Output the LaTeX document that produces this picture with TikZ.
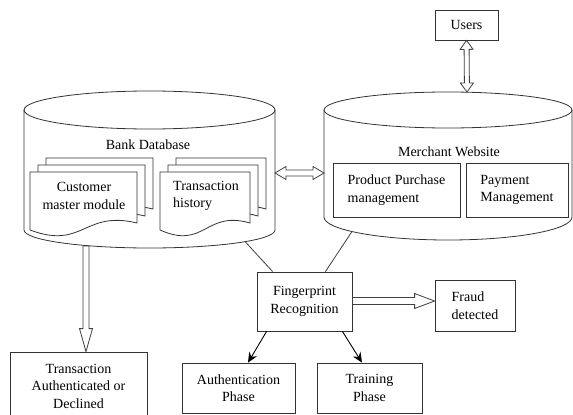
\documentclass[tikz,border=0pt]{standalone}
\usepackage{fontspec}
\setmainfont{Liberation Serif}
\usetikzlibrary{calc,arrows.meta}
\newcommand{\docpage}[3]{%
  \draw[docline] (#1,#2) -- (#1+#3,#2) -- (#1+#3,#2+51)
    .. controls (#1+0.5*#3,#2+38) and (#1+0.5*#3,#2+78) .. (#1,#2+58) -- cycle;}
\newcommand{\docstack}[3]{\docpage{#1+16}{#2-14}{#3}\docpage{#1+8}{#2-7}{#3}\docpage{#1}{#2}{#3}}
\newcommand{\blockarrow}[5]{%
  \coordinate (ba-q) at ($(#2)!#5!(#1)$);
  \draw[blk] ($(#1)!#3!90:(#2)$) -- ($(ba-q)!#3!-90:(#1)$) -- ($(ba-q)!#4!-90:(#1)$) -- (#2)
    -- ($(ba-q)!#4!90:(#1)$) -- ($(ba-q)!#3!90:(#1)$) -- ($(#1)!#3!-90:(#2)$) -- cycle;}
\newcommand{\dblockarrow}[5]{%
  \coordinate (ba-p) at ($(#1)!#5!(#2)$);
  \coordinate (ba-q) at ($(#2)!#5!(#1)$);
  \draw[blk] (#1) -- ($(ba-p)!#4!90:(#2)$) -- ($(ba-p)!#3!90:(#2)$) -- ($(ba-q)!#3!-90:(#1)$)
    -- ($(ba-q)!#4!-90:(#1)$) -- (#2) -- ($(ba-q)!#4!90:(#1)$) -- ($(ba-q)!#3!90:(#1)$)
    -- ($(ba-p)!#3!-90:(#2)$) -- ($(ba-p)!#4!-90:(#2)$) -- cycle;}
\begin{document}
\begin{tikzpicture}[x=1pt,y=-1pt,
  ln/.style={draw=black!80, line width=0.8pt},
  docline/.style={ln, fill=white},
  blk/.style={draw=black!75, line width=0.8pt, fill=white},
  txt/.style={font=\fontsize{14}{17.5}\selectfont, inner sep=0pt, text=black, align=center},
  box/.style={ln, txt, inner sep=0pt},
  conn/.style={draw=black!75, line width=0.8pt},
  arr/.style={draw=black, line width=0.9pt, -{Stealth[length=10pt,width=9pt]}}]
\useasboundingbox (0,0) rectangle (573,415);
\clip (0,0) rectangle (573,415);
\fill[white] (0,0) rectangle (573,415);

% Bank database cylinder
\draw[ln] (24,110) -- (24,230) arc[start angle=180,end angle=0,x radius=125.5,y radius=18] -- (275,110);
\draw[ln] (149.5,110) ellipse[x radius=125.5, y radius=19];
\node[txt] (bdb) at (148,145) {Bank Database};
\docstack{30}{172}{107}
\docstack{160}{172}{90}
\node[txt] (cust) at (84,196) {Customer\\master module};
\node[txt, align=left, anchor=west] (thist) at (173,196) {Transaction\\history};

% Merchant website cylinder
\draw[ln] (324,110) -- (324,217) arc[start angle=180,end angle=0,x radius=124,y radius=23] -- (572,110);
\draw[ln] (448,110) ellipse[x radius=124, y radius=18];
\node[txt] (mw) at (449,152) {Merchant Website};
\node[box, minimum width=127pt, minimum height=54pt, align=left] (prod) at (396.5,190) {Product Purchase\\management};
\node[box, minimum width=102pt, minimum height=54pt, align=left] (pay) at (517,190) {Payment\\Management};

% Other boxes
\node[box, minimum width=63pt, minimum height=30pt] (users) at (466.5,25) {Users};
\node[box, minimum width=95pt, minimum height=59pt] (fr) at (304.5,301.5) {Fingerprint\\Recognition};
\node[box, minimum width=80pt, minimum height=51pt, align=left] (fraud) at (475,305.5) {Fraud\\detected};
\node[box, minimum width=113pt, minimum height=50pt] (auth) at (238.5,388) {Authentication\\Phase};
\node[box, minimum width=105pt, minimum height=50pt] (train) at (369.5,388) {Training\\Phase};
\node[box, minimum width=137pt, minimum height=68pt] (trans) at (78.5,386) {Transaction\\Authenticated or\\Declined};

% connection points on cylinders
\coordinate (bankE) at (275,173);
\coordinate (mercW) at (324,173);
\coordinate (mercTop) at (467,92);
\coordinate (bankBot) at (86,246);
\coordinate (bankFR) at (245,241.5);
\coordinate (mercFR) at (352,231.5);

% block arrows
\dblockarrow{bankE}{mercW}{3pt}{6.5pt}{11pt}
\dblockarrow{users.south}{mercTop}{2.5pt}{6.5pt}{9pt}
\blockarrow{bankBot}{bankBot |- trans.north}{3pt}{6.5pt}{23pt}
\blockarrow{fr.east |- 0,301}{fraud.west |- 0,301}{3.5pt}{7.5pt}{20pt}

% lines
\draw[conn] (bankFR) -- ($(fr.north west)+(16,0)$);
\draw[conn] (mercFR) -- ($(fr.north east)+(-27,0)$);
\draw[arr] ($(fr.south west)+(10,0)$) -- ($(auth.north)+(9.5,0)$);
\draw[arr] ($(fr.south east)+(-10,0)$) -- ($(train.north)+(-7.5,0)$);
\end{tikzpicture}
\end{document}
